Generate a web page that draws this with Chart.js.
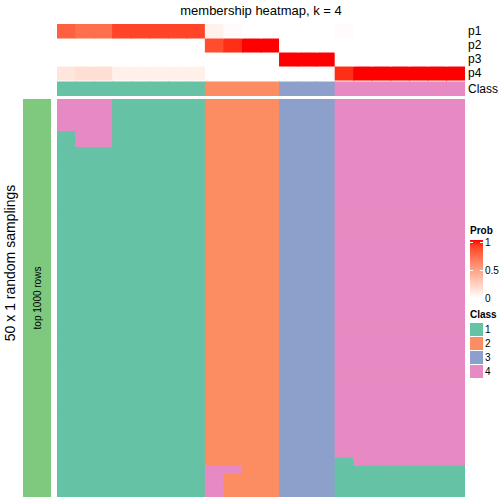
<!DOCTYPE html>
<html>
<head>
<meta charset="utf-8">
<script src="https://cdn.jsdelivr.net/npm/chart.js@4"></script>
<style>
  body { margin: 0; background: #fff; font-family: "Liberation Sans", Arial, sans-serif; }
  #page { position: relative; width: 504px; height: 504px; overflow: hidden; }
  canvas, .abs { position: absolute; }
  .rot { transform: translate(-50%, -50%) rotate(-90deg); white-space: nowrap; }
  .lbl { font-size: 12px; color: #000; }
  .leg { font-size: 10px; color: #000; }
</style>
</head>
<body>
<div id="page">
  <div class="abs" style="left:0;top:3px;width:522px;text-align:center;font-size:13px;">membership heatmap, k = 4</div>
  <canvas id="annot" width="408" height="72" style="left:57px;top:24px;"></canvas>
  <canvas id="main" width="408" height="398" style="left:57px;top:99px;"></canvas>
  <div id="rowLabels"></div>
  <div class="abs" style="left:23px;top:99px;width:28px;height:398px;background:#7FC97F;"></div>
  <div class="abs rot" style="left:37px;top:298px;font-size:10px;">top 1000 rows</div>
  <div class="abs rot" style="left:10px;top:263px;font-size:14px;">50 x 1 random samplings</div>
  <div id="legend"></div>
</div>
<script>
// columns (samples) of the heatmap
const columns = Array.from({length: 22}, (_, i) => 'S' + (i + 1));

// membership probabilities per column
const p1 = [0.78, 0.72, 0.72, 0.88, 0.88, 0.88, 0.88, 0.88, 0.07, 0.02, 0, 0, 0, 0, 0, 0.02, 0, 0, 0, 0, 0, 0];
const p2 = [0, 0, 0, 0, 0, 0, 0, 0, 0.85, 0.94, 1, 1, 0, 0, 0, 0, 0, 0, 0, 0, 0, 0];
const p3 = [0, 0, 0, 0, 0, 0, 0, 0, 0, 0, 0, 0, 1, 1, 1, 0, 0, 0, 0, 0, 0, 0];
const p4 = [0.13, 0.17, 0.17, 0.08, 0.08, 0.08, 0.08, 0.08, 0, 0, 0, 0, 0, 0, 0, 0.94, 1, 1, 1, 1, 1, 1];
const classAnno = [1, 1, 1, 1, 1, 1, 1, 1, 2, 2, 2, 2, 3, 3, 3, 4, 4, 4, 4, 4, 4, 4];
const annoLabels = ['p1', 'p2', 'p3', 'p4', 'Class'];

// class of each column in each of the 50 random samplings (rows)
const classRows = [
  '4441111122223334444444',
  '4441111122223334444444',
  '4441111122223334444444',
  '4441111122223334444444',
  '1441111122223334444444',
  '1441111122223334444444',
  '1111111122223334444444',
  '1111111122223334444444',
  '1111111122223334444444',
  '1111111122223334444444',
  '1111111122223334444444',
  '1111111122223334444444',
  '1111111122223334444444',
  '1111111122223334444444',
  '1111111122223334444444',
  '1111111122223334444444',
  '1111111122223334444444',
  '1111111122223334444444',
  '1111111122223334444444',
  '1111111122223334444444',
  '1111111122223334444444',
  '1111111122223334444444',
  '1111111122223334444444',
  '1111111122223334444444',
  '1111111122223334444444',
  '1111111122223334444444',
  '1111111122223334444444',
  '1111111122223334444444',
  '1111111122223334444444',
  '1111111122223334444444',
  '1111111122223334444444',
  '1111111122223334444444',
  '1111111122223334444444',
  '1111111122223334444444',
  '1111111122223334444444',
  '1111111122223334444444',
  '1111111122223334444444',
  '1111111122223334444444',
  '1111111122223334444444',
  '1111111122223334444444',
  '1111111122223334444444',
  '1111111122223334444444',
  '1111111122223334444444',
  '1111111122223334444444',
  '1111111122223334444444',
  '1111111122223331444444',
  '1111111144223331111111',
  '1111111142223331111111',
  '1111111142223331111111',
  '1111111142223331111111'
];

const classNames = ['1', '2', '3', '4'];
const classColors = ['#66C2A5', '#FC8D62', '#8DA0CB', '#E78AC3'];
const probTicks = ['1', '0.5', '0'];

// white -> red in Lab space, like colorRamp2
function labToRgb(L, a, b) {
  let y = (L + 16) / 116, x = a / 500 + y, z = y - b / 200;
  const f = t => (t ** 3 > 0.008856 ? t ** 3 : (t - 16 / 116) / 7.787);
  x = 0.95047 * f(x); y = f(y); z = 1.08883 * f(z);
  const r = x * 3.2406 - y * 1.5372 - z * 0.4986;
  const g = -x * 0.9689 + y * 1.8758 + z * 0.0415;
  const bl = x * 0.0557 - y * 0.2040 + z * 1.0570;
  const gam = c => (c > 0.0031308 ? 1.055 * c ** (1 / 2.4) - 0.055 : 12.92 * c);
  return [r, g, bl].map(c => Math.round(Math.min(1, Math.max(0, gam(c))) * 255));
}
function probColor(p) {
  const [r, g, b] = labToRgb(100 + (53.24 - 100) * p, 80.09 * p, 67.2 * p);
  return `rgb(${r},${g},${b})`;
}

const commonOpts = {
  animation: false,
  responsive: false,
  maintainAspectRatio: false,
  events: [],
  layout: { padding: 0 },
  plugins: { legend: { display: false }, tooltip: { enabled: false } }
};

// top annotation: p1..p4 and Class
const classGap = 0.14;
const probRows = [p1, p2, p3, p4];
const annoSets = probRows.map((row, i) => ({
  data: columns.map(() => [i, i + 1]),
  backgroundColor: row.map(probColor),
  borderWidth: 0,
  inflateAmount: 0.5,
  categoryPercentage: 1,
  barPercentage: 1
}));
annoSets.push({
  data: columns.map(() => [4 + classGap, 5 + classGap]),
  backgroundColor: classAnno.map(c => classColors[c - 1]),
  borderWidth: 0,
  inflateAmount: 0.5,
  categoryPercentage: 1,
  barPercentage: 1
});
new Chart(document.getElementById('annot'), {
  type: 'bar',
  data: { labels: columns, datasets: annoSets },
  options: {
    ...commonOpts,
    scales: {
      x: { stacked: true, display: false },
      y: { display: false, reverse: true, min: 0, max: 5 + classGap }
    }
  }
});

// main heatmap
new Chart(document.getElementById('main'), {
  type: 'bar',
  data: {
    labels: columns,
    datasets: classRows.map(row => ({
      data: columns.map(() => 1),
      backgroundColor: row.split('').map(c => classColors[+c - 1]),
      borderWidth: 0,
      inflateAmount: 0.5,
      categoryPercentage: 1,
      barPercentage: 1
    }))
  },
  options: {
    ...commonOpts,
    scales: {
      x: { stacked: true, display: false },
      y: { stacked: true, display: false, reverse: true, min: 0, max: classRows.length }
    }
  }
});

// row labels right of the annotation
const rl = document.getElementById('rowLabels');
annoLabels.forEach((t, i) => {
  const d = document.createElement('div');
  d.className = 'abs lbl';
  d.style.left = '468px';
  d.style.top = (24 + (i < 4 ? i * 14 : 4 * 14 + 2)) + 'px';
  d.style.lineHeight = '14px';
  d.textContent = t;
  rl.appendChild(d);
});

// legends
const lg = document.getElementById('legend');
function addDiv(html, css) {
  const d = document.createElement('div');
  d.className = 'abs leg';
  d.style.cssText += css;
  d.innerHTML = html;
  lg.appendChild(d);
}
addDiv('<b>Prob</b>', 'left:470px;top:225px;');
const stops = [];
for (let k = 0; k <= 10; k++) stops.push(probColor(1 - k / 10) + ' ' + (k * 10) + '%');
addDiv('', `left:470px;top:240px;width:13px;height:58px;background:linear-gradient(to bottom, ${stops.join(',')});`);
probTicks.forEach((t, i) => {
  const y = 243 + i * 28;
  addDiv('', `left:470px;top:${y - 1}px;width:3px;height:1px;background:#fff;`);
  addDiv('', `left:480px;top:${y - 1}px;width:3px;height:1px;background:#fff;`);
  addDiv(t, `left:485px;top:${y - 6}px;line-height:12px;`);
});
addDiv('<b>Class</b>', 'left:470px;top:309px;');
classNames.forEach((t, i) => {
  const y = 323 + i * 14;
  addDiv('', `left:470px;top:${y}px;width:13px;height:13px;background:${classColors[i]};`);
  addDiv(t, `left:485px;top:${y}px;line-height:13px;`);
});
</script>
</body>
</html>
